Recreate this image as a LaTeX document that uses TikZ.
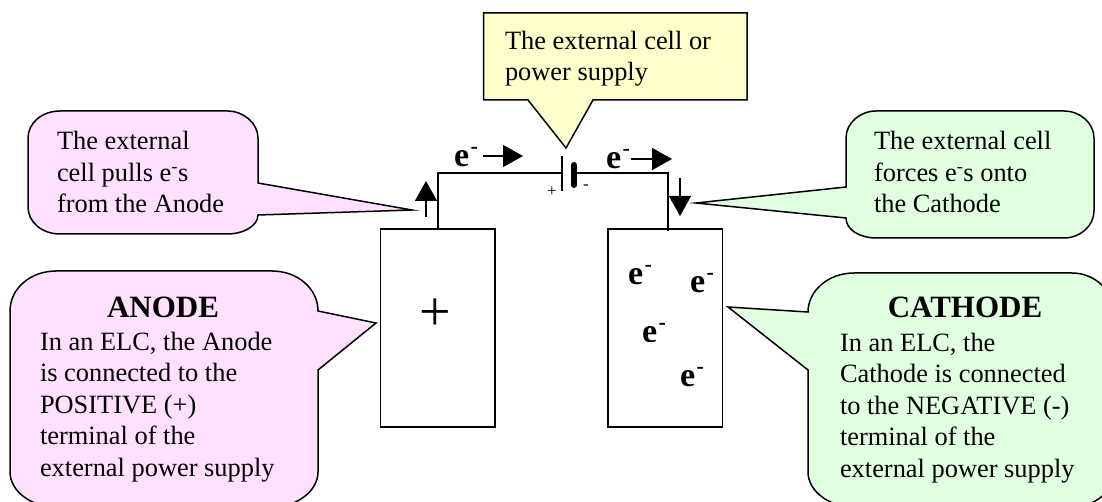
\documentclass[tikz,border=0pt]{standalone}
\usepackage{fontspec}
\setmainfont{Liberation Serif}
\usetikzlibrary{arrows.meta}
\definecolor{pinkfill}{HTML}{FFE1FF}
\definecolor{greenfill}{HTML}{E1FFE1}
\definecolor{yellowfill}{HTML}{FFFFCC}
\newcommand{\elec}{e\kern1.5pt\raisebox{13pt}{\fontsize{22}{22}\selectfont -}}
\tikzset{
  x=1pt,y=-1pt,
  callout/.style={draw=black,line width=1.5pt,line join=miter},
  body/.style={inner sep=0pt,outer sep=0pt,align=left,anchor=base west,font=\fontsize{26.4}{31.5}\selectfont},
  heading/.style={inner sep=0pt,outer sep=0pt,anchor=base,font=\fontsize{31}{36}\selectfont\bfseries},
  electron/.style={inner sep=0pt,outer sep=0pt,anchor=base west,font=\fontsize{34}{38}\selectfont\bfseries},
  electrode/.style={draw=black,line width=1.5pt,minimum width=114.5pt,minimum height=198pt,inner sep=0pt,outer sep=0pt},
  wire/.style={line width=1.5pt},
  flow/.style={line width=1.5pt,-{Triangle[length=20pt,width=22pt]}},
  sign/.style={inner sep=0pt,font=\fontsize{17}{20}\selectfont}
}
\begin{document}
\begin{tikzpicture}
\path[use as bounding box] (0,0) rectangle (1102,502);
\clip (0,0) rectangle (1102,502);
\fill[white] (0,0) rectangle (1102,502);

% callouts
\filldraw[callout,fill=yellowfill] (483.5,13) -- (747,13) -- (747,100) -- (593,100) -- (566,148) -- (528,100) -- (483.5,100) -- cycle;
\filldraw[callout,fill=pinkfill] (258,183) -- (258,138) .. controls (258,123) and (243,111) .. (228,111) -- (60,111) .. controls (42,111) and (28,123) .. (28,138) -- (28,207) .. controls (28,222) and (42,234) .. (60,234) -- (228,234) .. controls (243,234) and (258,226) .. (258,215) -- (412,210) -- cycle;
\filldraw[callout,fill=pinkfill] (318,311) .. controls (318,289) and (298,271) .. (272,271) -- (56,271) .. controls (30,271) and (10,289) .. (10,311) -- (10,472) .. controls (10,491) and (31,507) .. (56,507) -- (272,507) .. controls (297,507) and (318,491) .. (318,472) -- (318,370) -- (376,323) -- cycle;
\filldraw[callout,fill=greenfill] (846,187) -- (846,138) .. controls (846,123) and (860,111) .. (876,111) -- (1064,111) .. controls (1080,111) and (1094,123) .. (1094,138) -- (1094,211) .. controls (1094,226) and (1080,238) .. (1064,238) -- (876,238) .. controls (860,238) and (846,230) .. (846,218) -- (696,203) -- cycle;
\filldraw[callout,fill=greenfill] (808,312) .. controls (808,291) and (828,273) .. (854,273) -- (1072,273) .. controls (1095,273) and (1114,291) .. (1114,313) -- (1114,472) .. controls (1114,491) and (1095,507) .. (1072,507) -- (854,507) .. controls (829,507) and (808,491) .. (808,472) -- (808,370) -- (728,307) -- cycle;

% electrodes
\node[electrode] (anode) at (437.5,328) {};
\node[electrode] (cathode) at (665,328) {};

% battery
\coordinate (plateA1) at (562,156);
\coordinate (plateA2) at (562,191);
\coordinate (plateB1) at (574,165);
\coordinate (plateB2) at (574,185);
\draw[wire] (plateA1) -- (plateA2);
\draw[line width=6pt,line cap=round] (plateB1) -- (plateB2);
\coordinate (wireL) at (562,173);
\coordinate (wireR) at (574,173);
\coordinate (cornerL) at (438,173);
\coordinate (cornerR) at (668,173);
\draw[wire] (anode.north -| cornerL) -- (cornerL) -- (wireL);
\draw[wire] (wireR) -- (cornerR) -- ([yshift=-2pt]cathode.north -| cornerR);

% flow arrows
\coordinate (a1s) at (426,217); \coordinate (a1e) at (426,181);
\coordinate (a2s) at (680,178); \coordinate (a2e) at (680,216);
\coordinate (a3s) at (483,156); \coordinate (a3e) at (523,156);
\coordinate (a4s) at (631,159); \coordinate (a4e) at (672,159);
\draw[flow] (a1s) -- (a1e);
\draw[flow] (a2s) -- (a2e);
\draw[flow] (a3s) -- (a3e);
\draw[flow] (a4s) -- (a4e);

% labels
\node[electron] (e1) at (454,167) {\elec};
\node[electron] (e2) at (606,169) {\elec};
\node[electron] (e3) at (628,285) {\elec};
\node[electron] (e4) at (690,293) {\elec};
\begin{scope}
\clip (600,315) rectangle (705,341);
\node[electron] (e5) at (642,342) {\elec};
\end{scope}
\node[electron] (e6) at (680,386) {\elec};
\node[sign] (plus) at (552,192) {+};
\node[sign] (minus) at (586,187) {-};
\node[inner sep=0pt,font=\fontsize{56}{58}\selectfont] (bigplus) at (435,315) {+};

% texts
\node[body] (t1) at (505,81) {The external cell or\\power supply};
\node[body] (t2) at (57,213) {The external\\cell pulls e\textsuperscript{-}s\\from the Anode};
\node[body] (t3) at (874,213) {The external cell\\forces e\textsuperscript{-}s onto\\the Cathode};
\node[heading] (h1) at (163,318) {ANODE};
\node[body] (t4) at (40,476) {In an ELC, the Anode\\is connected to the\\POSITIVE (+)\\terminal of the\\external power supply};
\node[heading] (h2) at (965,318) {CATHODE};
\node[body] (t5) at (840,477) {In an ELC, the\\Cathode is connected\\to the NEGATIVE (-)\\terminal of the\\external power supply};
\end{tikzpicture}
\end{document}
